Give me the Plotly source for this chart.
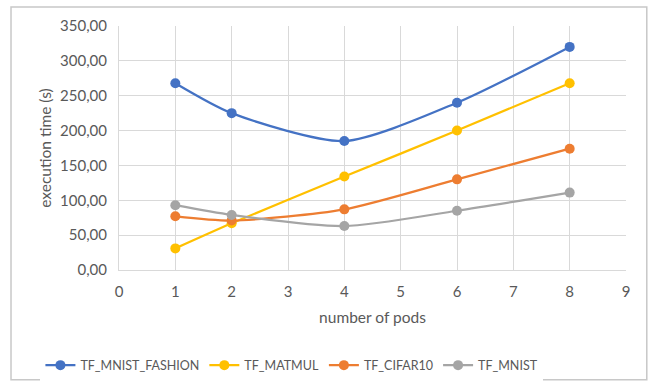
import plotly.graph_objects as go

pods = [1, 2, 4, 6, 8]
mnist_fashion = [268, 225, 185, 240, 320]
matmul = [31, 67, 134, 200, 268]
cifar10 = [77, 71, 87, 130, 174]
mnist = [93, 79, 63, 85, 111]

series = [
    ("TF_MNIST_FASHION", mnist_fashion, "#4472C4"),
    ("TF_MATMUL", matmul, "#FFC000"),
    ("TF_CIFAR10", cifar10, "#ED7D31"),
    ("TF_MNIST", mnist, "#A5A5A5"),
]

y_ticks = [0, 50, 100, 150, 200, 250, 300, 350]
y_labels = [f"{v},00" for v in y_ticks]
x_ticks = list(range(0, 10))

font_family = "Lato, Open Sans, sans-serif"
text_color = "#595959"

fig = go.Figure()
for name, vals, color in series:
    fig.add_trace(go.Scatter(
        x=pods, y=vals, name=name, mode="lines+markers",
        line=dict(color=color, width=2.25, shape="spline", smoothing=0.7),
        marker=dict(size=10, color=color),
    ))

fig.update_layout(
    width=657, height=386,
    margin=dict(l=119, r=31, t=26, b=116, autoexpand=False),
    paper_bgcolor="white", plot_bgcolor="white",
    font=dict(family=font_family, size=15, color=text_color),
    showlegend=True,
    legend=dict(orientation="h", x=-0.155, xanchor="left", y=-0.33, yanchor="top",
                font=dict(size=12.5, color=text_color), itemwidth=30, tracegroupgap=0),
    xaxis=dict(range=[0, 9], tickvals=x_ticks, showgrid=True, gridcolor="#D9D9D9",
               gridwidth=1, zeroline=False, showline=True, linecolor="#D9D9D9",
               ticks="", ticklabelstandoff=8, tickfont=dict(size=15), automargin=False,
               title=dict(text="number of pods", font=dict(size=15.5, color=text_color), standoff=13)),
    yaxis=dict(range=[0, 350], tickvals=y_ticks, ticktext=y_labels, showgrid=True,
               gridcolor="#D9D9D9", gridwidth=1, zeroline=False, showline=True,
               linecolor="#D9D9D9", ticks="", ticklabelstandoff=8, tickfont=dict(size=15),
               automargin=False,
               title=dict(text="execution time (s)", font=dict(size=15.5, color=text_color), standoff=4)),
    shapes=[dict(type="rect", xref="paper", yref="paper",
                 x0=-0.213, x1=1.041, y0=-0.45, y1=1.078,
                 line=dict(color="#C8C8C8", width=1.5))],
)

fig.write_html("out.html")
